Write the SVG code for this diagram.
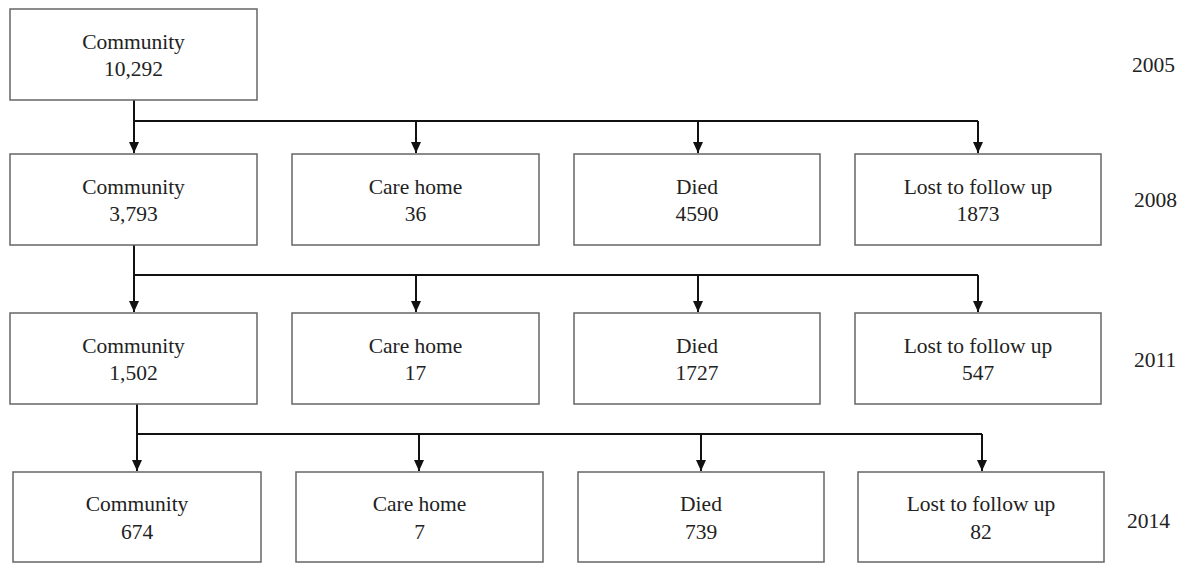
<svg xmlns="http://www.w3.org/2000/svg" width="1188" height="563" viewBox="0 0 1188 563">
<style>
.box{fill:#fff;stroke:#666;stroke-width:1.5}
.t{font-family:"Liberation Serif","Times New Roman",serif;font-size:21.5px;fill:#222;text-anchor:middle}
.y{font-family:"Liberation Serif","Times New Roman",serif;font-size:21.5px;fill:#222;text-anchor:start}
.c{fill:none;stroke:#111;stroke-width:2}
</style>
<defs>
<marker id="ah" viewBox="0 0 10 11" markerWidth="10" markerHeight="11" refX="5" refY="11" orient="0" markerUnits="userSpaceOnUse">
<path d="M0,0 L10,0 L5,11 z" fill="#111"/>
</marker>
</defs>
<rect width="1188" height="563" fill="#fff"/>
<g id="connectors">
<path class="c" d="M134,100 V153" marker-end="url(#ah)"/>
<path class="c" d="M134,121 H978"/>
<path class="c" d="M416,121 V153" marker-end="url(#ah)"/>
<path class="c" d="M698,121 V153" marker-end="url(#ah)"/>
<path class="c" d="M978,121 V153" marker-end="url(#ah)"/>
<path class="c" d="M134,245 V312" marker-end="url(#ah)"/>
<path class="c" d="M134,275 H978"/>
<path class="c" d="M416,275 V312" marker-end="url(#ah)"/>
<path class="c" d="M698,275 V312" marker-end="url(#ah)"/>
<path class="c" d="M978,275 V312" marker-end="url(#ah)"/>
<path class="c" d="M137,404 V471" marker-end="url(#ah)"/>
<path class="c" d="M137,434 H982"/>
<path class="c" d="M419,434 V471" marker-end="url(#ah)"/>
<path class="c" d="M701,434 V471" marker-end="url(#ah)"/>
<path class="c" d="M982,434 V471" marker-end="url(#ah)"/>
</g>
<g id="n2005"><rect class="box" x="10" y="9" width="247" height="91"/><text class="t" x="133.5" y="49">Community</text><text class="t" x="133.5" y="76">10,292</text></g>
<g id="c2008"><rect class="box" x="10" y="154" width="247" height="91"/><text class="t" x="133.5" y="194">Community</text><text class="t" x="133.5" y="221">3,793</text></g>
<g id="h2008"><rect class="box" x="292" y="154" width="247" height="91"/><text class="t" x="415.5" y="194">Care home</text><text class="t" x="415.5" y="221">36</text></g>
<g id="d2008"><rect class="box" x="574" y="154" width="246" height="91"/><text class="t" x="697" y="194">Died</text><text class="t" x="697" y="221">4590</text></g>
<g id="l2008"><rect class="box" x="855" y="154" width="246" height="91"/><text class="t" x="978" y="194">Lost to follow up</text><text class="t" x="978" y="221">1873</text></g>
<g id="c2011"><rect class="box" x="10" y="313" width="247" height="91"/><text class="t" x="133.5" y="353">Community</text><text class="t" x="133.5" y="380">1,502</text></g>
<g id="h2011"><rect class="box" x="292" y="313" width="247" height="91"/><text class="t" x="415.5" y="353">Care home</text><text class="t" x="415.5" y="380">17</text></g>
<g id="d2011"><rect class="box" x="574" y="313" width="246" height="91"/><text class="t" x="697" y="353">Died</text><text class="t" x="697" y="380">1727</text></g>
<g id="l2011"><rect class="box" x="855" y="313" width="246" height="91"/><text class="t" x="978" y="353">Lost to follow up</text><text class="t" x="978" y="380">547</text></g>
<g id="c2014"><rect class="box" x="13" y="472" width="248" height="90"/><text class="t" x="137" y="511">Community</text><text class="t" x="137" y="539">674</text></g>
<g id="h2014"><rect class="box" x="296" y="472" width="247" height="90"/><text class="t" x="419.5" y="511">Care home</text><text class="t" x="419.5" y="539">7</text></g>
<g id="d2014"><rect class="box" x="578" y="472" width="246" height="90"/><text class="t" x="701" y="511">Died</text><text class="t" x="701" y="539">739</text></g>
<g id="l2014"><rect class="box" x="858" y="472" width="246" height="90"/><text class="t" x="981" y="511">Lost to follow up</text><text class="t" x="981" y="539">82</text></g>
<g id="years">
<text class="y" x="1132" y="72">2005</text>
<text class="y" x="1134" y="207">2008</text>
<text class="y" x="1134" y="367">2011</text>
<text class="y" x="1127" y="528">2014</text>
</g>
</svg>
